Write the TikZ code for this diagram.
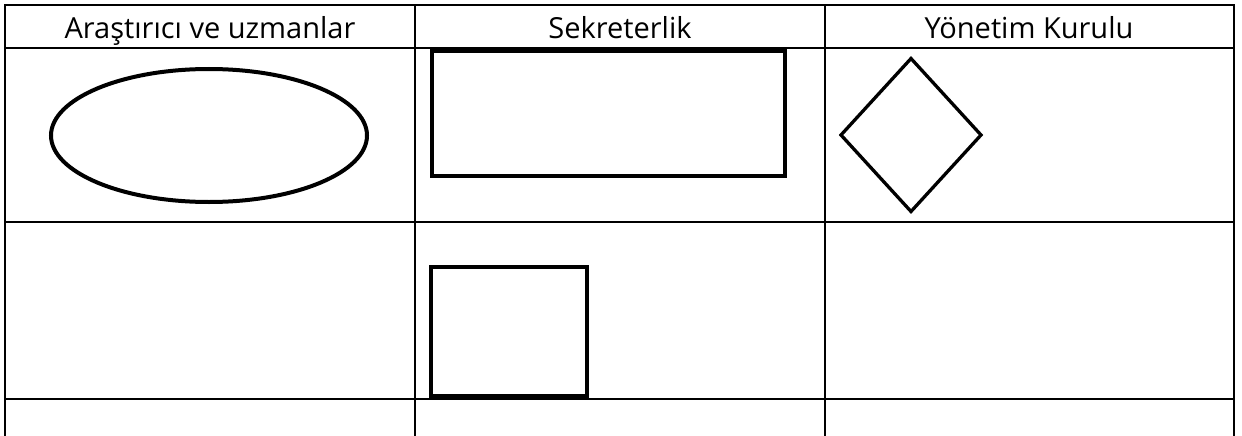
\documentclass[tikz,border=0pt]{standalone}
\usepackage{fontspec}
\setmainfont{Open Sans}
\usetikzlibrary{shapes.geometric}
\begin{document}
\begin{tikzpicture}[x=1pt,y=-1pt,
  grid/.style={line width=2.2pt},
  shapebox/.style={draw,line width=4pt,inner sep=0pt,outer sep=0pt},
  head/.style={anchor=base,font=\fontsize{29}{34}\selectfont,inner sep=0pt}]
\useasboundingbox (0,0) rectangle (1242,436);
% grid
\draw[grid] (5,436) -- (5,5) -- (1234,5) -- (1234,436);
\draw[grid] (415,5) -- (415,436);
\draw[grid] (825,5) -- (825,436);
\draw[grid] (5,48) -- (1234,48);
\draw[grid] (5,222) -- (1234,222);
\draw[grid] (5,399) -- (1234,399);
% headers
\node[head] (h1) at (210,39) {Araştırıcı ve uzmanlar};
\node[head] (h2) at (620,39) {Sekreterlik};
\node[head] (h3) at (1029,39) {Yönetim Kurulu};
% shapes
\node[shapebox,ellipse,minimum width=316pt,minimum height=133pt] (ell) at (209,135.5) {};
\node[shapebox,rectangle,minimum width=353pt,minimum height=125pt] (rect) at (608.5,113.5) {};
\node[shapebox,diamond,line width=3.3pt,minimum width=140pt,minimum height=153pt] (dia) at (911,135) {};
\node[shapebox,rectangle,minimum width=156pt,minimum height=129pt] (sq) at (509,331.5) {};
\end{tikzpicture}
\end{document}
